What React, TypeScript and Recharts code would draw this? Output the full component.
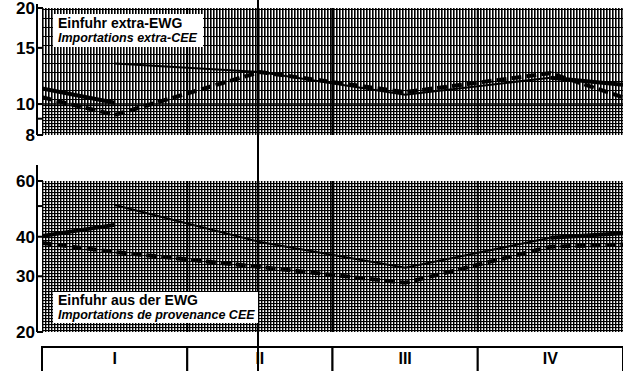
import { LineChart, Line, XAxis, YAxis, ReferenceArea, ReferenceLine } from "recharts";

const quarters = ["I", "II", "III", "IV"];
const quarterMid = [0.5, 1.5, 2.5, 3.5];
const quarterBounds = [1, 2, 3];

// x positions (in quarters) of the points of each line
const xLeft = [0, 0.5];
const xMid = [0.5, 1.5, 2.5, 3.5];
const xRight = [3.5, 4];
const xFull = [0, 0.5, 1.5, 2.5, 3.5, 4];

// Einfuhr extra-EWG / Importations extra-CEE
const extraPrevLeft = [11.2, 10.1];
const extraSolid = [13.4, 12.6, 10.7, 12.1];
const extraPrevRight = [12.1, 11.5];
const extraDashed = [10.5, 9.25, 12.6, 10.9, 12.5, 10.5];

// Einfuhr aus der EWG / Importations de provenance CEE
const intraPrevLeft = [40.2, 43.6];
const intraSolid = [50.4, 38.5, 31.9, 39.7];
const intraPrevRight = [39.7, 41];
const intraDashed = [38.2, 35.8, 32.1, 28.6, 37.2, 37.8];

const topTicks = [8, 9, 10, 15, 20];
const bottomTicks = [20, 30, 40, 50, 60];
const unlabeled = [9, 50];

const FONT = "'Liberation Sans', Arial, sans-serif";
const QW = (623 - 42) / 4;

const toPoints = (xs: number[], vs: number[]) => xs.map((x, i) => ({ x, v: vs[i] }));

function YTick(props: any) {
  const { x, y, payload } = props;
  const v = payload.value;
  return (
    <g>
      <line x1={x} x2={x + 6} y1={y} y2={y} stroke="#000" strokeWidth={2} />
      {!unlabeled.includes(v) && (
        <text x={x - 2} y={y + 6} textAnchor="end" fontSize={17} fontWeight="bold" fontFamily={FONT} fill="#000">
          {v}
        </text>
      )}
    </g>
  );
}

function QuarterTick(props: any) {
  const { x, y, payload } = props;
  const label = quarters[quarterMid.indexOf(payload.value)];
  return (
    <g>
      <rect x={x - QW / 2} y={y + 15} width={QW} height={40} fill="#fff" stroke="#000" strokeWidth={2} />
      <text x={x} y={y + 32} textAnchor="middle" fontSize={16} fontWeight="bold" fontFamily={FONT} fill="#000">
        {label}
      </text>
    </g>
  );
}

function lines(prevL: number[], solid: number[], prevR: number[], dashed: number[]) {
  return [
    <Line key="pl" data={toPoints(xLeft, prevL)} dataKey="v" type="linear" dot={false} stroke="#000" strokeWidth={4} isAnimationActive={false} />,
    <Line key="so" data={toPoints(xMid, solid)} dataKey="v" type="linear" dot={false} stroke="#000" strokeWidth={2} isAnimationActive={false} />,
    <Line key="pr" data={toPoints(xRight, prevR)} dataKey="v" type="linear" dot={false} stroke="#000" strokeWidth={4} isAnimationActive={false} />,
    <Line key="da" data={toPoints(xFull, dashed)} dataKey="v" type="linear" dot={false} stroke="#000" strokeWidth={4} strokeDasharray="10 5" isAnimationActive={false} />,
  ];
}

const boxStyle = (left: number, top: number, width: number, height: number): any => ({
  position: "absolute",
  left,
  top,
  width,
  height,
  background: "#fff",
  fontFamily: FONT,
  fontWeight: "bold",
  color: "#000",
  lineHeight: "15px",
  paddingLeft: 5,
  boxSizing: "border-box",
});

export default function App() {
  return (
    <div style={{ position: "absolute", left: 0, top: 0, width: 623, height: 371, overflow: "hidden", background: "#fff" }}>
      <svg width={0} height={0} style={{ position: "absolute" }}>
        <defs>
          <pattern id="paperV" patternUnits="userSpaceOnUse" width={3} height={9}>
            <rect x={0} y={0} width={3} height={9} fill="#fff" />
            <rect x={0} y={0} width={1.6} height={9} fill="#000" />
            <rect x={0} y={0} width={3} height={1} fill="#000" />
          </pattern>
          <pattern id="paperD" patternUnits="userSpaceOnUse" width={3} height={3}>
            <rect x={0} y={0} width={3} height={3} fill="#fff" />
            <rect x={0} y={0} width={1.4} height={3} fill="#000" />
            <rect x={0} y={0} width={3} height={1.1} fill="#000" />
          </pattern>
        </defs>
      </svg>

      <div style={{ position: "absolute", left: 0, top: 0 }}>
        <LineChart width={623} height={146} margin={{ top: 8, right: 0, bottom: 11, left: 0 }}>
          <XAxis type="number" dataKey="x" domain={[0, 4]} hide padding={{ left: 5, right: 0 }} allowDataOverflow />
          <YAxis
            type="number"
            scale="log"
            domain={[8, 20]}
            ticks={topTicks}
            width={37}
            allowDataOverflow
            tickSize={0}
            tickMargin={0}
            axisLine={{ stroke: "#000", strokeWidth: 2 }}
            tickLine={false}
            tick={<YTick />}
            interval={0}
          />
          <ReferenceArea x1={0} x2={4} y1={10} y2={20} fill="url(#paperV)" fillOpacity={1} stroke="none" />
          <ReferenceArea x1={0} x2={4} y1={8} y2={10} fill="url(#paperD)" fillOpacity={1} stroke="none" />
          {quarterBounds.map((b) => (
            <ReferenceLine key={b} x={b} stroke="#000" strokeWidth={2} />
          ))}
          <ReferenceLine y={10} stroke="#000" strokeWidth={1.5} />
          {lines(extraPrevLeft, extraSolid, extraPrevRight, extraDashed)}
        </LineChart>
      </div>

      <div style={{ position: "absolute", left: 0, top: 150 }}>
        <LineChart width={623} height={221} margin={{ top: 31, right: 0, bottom: 0, left: 0 }}>
          <XAxis
            type="number"
            dataKey="x"
            domain={[0, 4]}
            padding={{ left: 5, right: 0 }}
            allowDataOverflow
            ticks={quarterMid}
            interval={0}
            height={39}
            tickSize={0}
            tickMargin={0}
            axisLine={false}
            tickLine={false}
            tick={<QuarterTick />}
          />
          <YAxis
            type="number"
            scale="log"
            domain={[20, 60]}
            ticks={bottomTicks}
            width={37}
            allowDataOverflow
            tickSize={0}
            tickMargin={0}
            axisLine={{ stroke: "#000", strokeWidth: 2 }}
            tickLine={false}
            tick={<YTick />}
            interval={0}
          />
          <ReferenceArea x1={0} x2={4} y1={20} y2={60} fill="url(#paperD)" fillOpacity={1} stroke="none" />
          {quarterBounds.map((b) => (
            <ReferenceLine key={b} x={b} stroke="#000" strokeWidth={2} />
          ))}
          {lines(intraPrevLeft, intraSolid, intraPrevRight, intraDashed)}
        </LineChart>
      </div>

      {/* axis stubs above the plot areas */}
      <div style={{ position: "absolute", left: 36, top: 4, width: 2, height: 6, background: "#000" }} />
      <div style={{ position: "absolute", left: 36, top: 165, width: 2, height: 17, background: "#000" }} />

      {/* vertical rule through the middle of quarter II */}
      <div style={{ position: "absolute", left: 257, top: 0, width: 2, height: 371, background: "#000" }} />

      <div style={boxStyle(53, 14, 150, 33)}>
        <div style={{ fontSize: 14, marginTop: 2 }}>Einfuhr extra-EWG</div>
        <div style={{ fontSize: 12.5, fontStyle: "italic" }}>Importations extra-CEE</div>
      </div>
      <div style={boxStyle(53, 292, 205, 31)}>
        <div style={{ fontSize: 14, marginTop: 1 }}>Einfuhr aus der EWG</div>
        <div style={{ fontSize: 12.5, fontStyle: "italic" }}>Importations de provenance CEE</div>
      </div>
    </div>
  );
}
